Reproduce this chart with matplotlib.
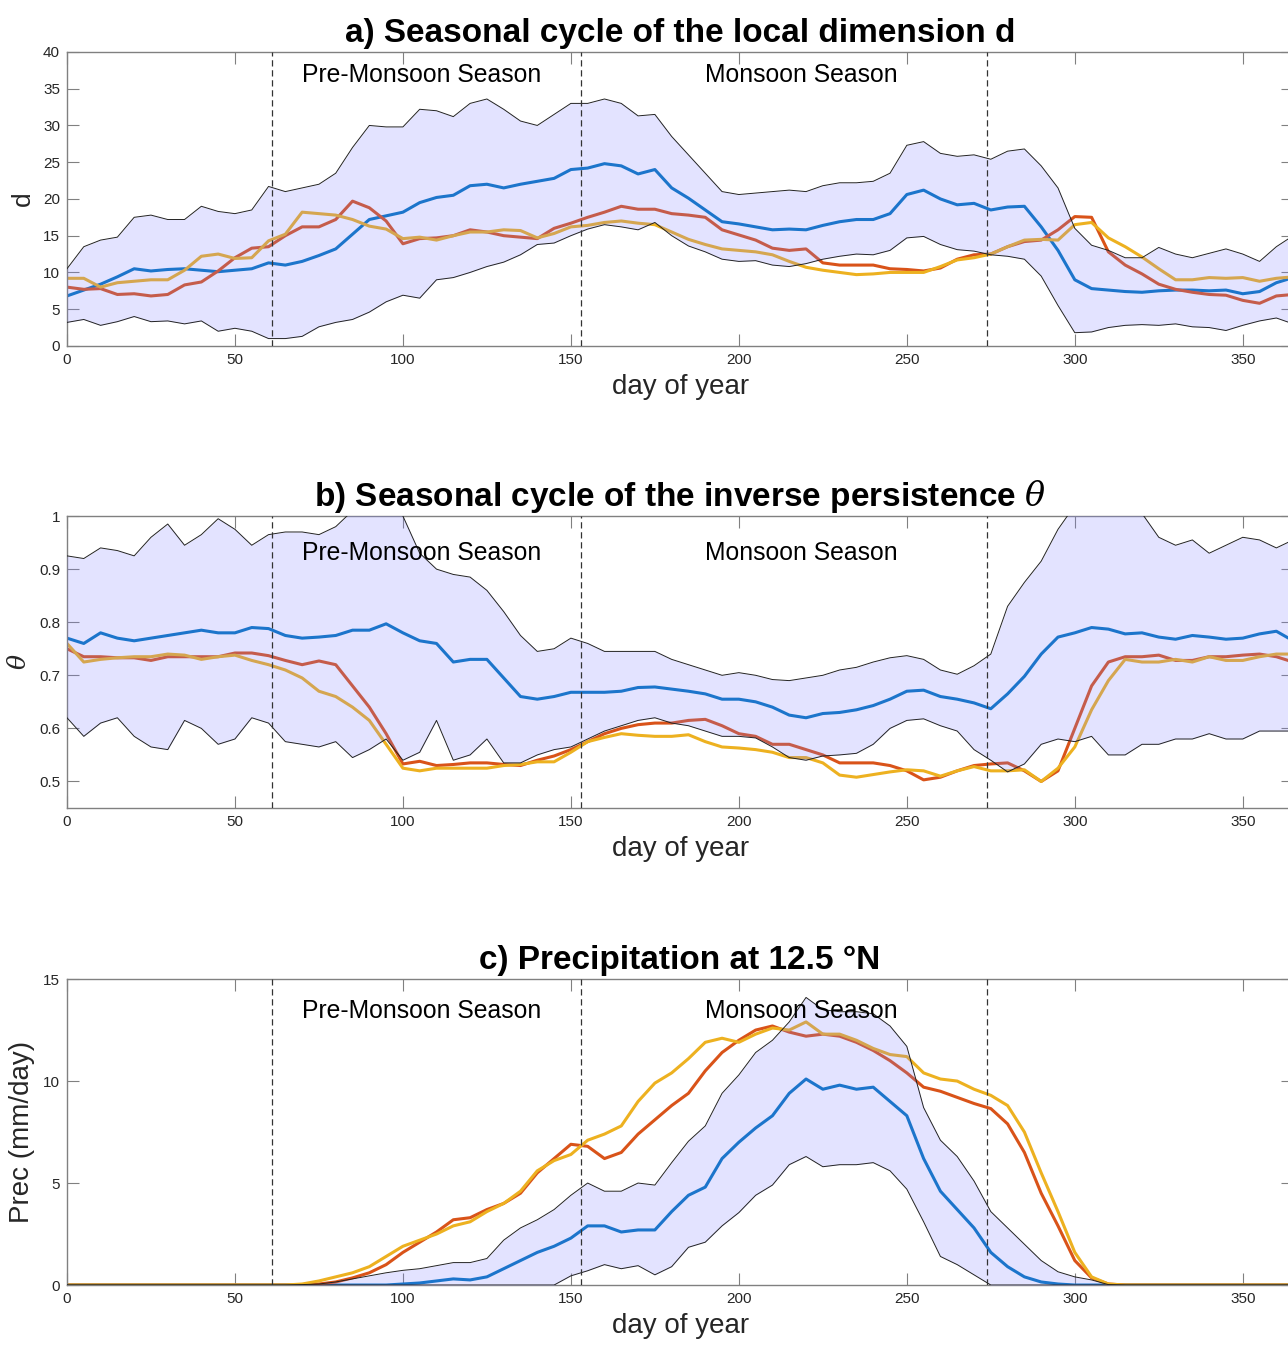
import numpy as np
import matplotlib as mpl
import matplotlib.pyplot as plt

mpl.rcParams['font.family'] = ['Liberation Sans', 'DejaVu Sans']
mpl.rcParams['mathtext.fontset'] = 'dejavuserif'

# day of year, every 5 days
days = list(range(0, 365, 5)) + [365]

# ---- a) local dimension d
d_hi = [10.5, 13.5, 14.4, 14.8, 17.5, 17.8, 17.2, 17.2, 19.0, 18.3,
        18.0, 18.5, 21.7, 21.0, 21.5, 22.0, 23.5, 27.0, 30.0, 29.8,
        29.8, 32.2, 32.0, 31.2, 33.0, 33.6, 32.2, 30.6, 30.0, 31.5,
        33.0, 33.0, 33.6, 33.0, 31.3, 31.5, 28.5, 26.0, 23.5, 21.0,
        20.6, 20.8, 21.0, 21.2, 21.0, 21.8, 22.2, 22.2, 22.4, 23.5,
        27.3, 27.8, 26.2, 25.8, 26.0, 25.4, 26.5, 26.8, 24.5, 21.5,
        16.0, 13.7, 13.0, 12.0, 12.0, 13.4, 12.5, 12.0, 12.6, 13.2,
        12.5, 11.5, 13.5, 15.0]
d_lo = [3.2, 3.6, 2.8, 3.3, 4.0, 3.3, 3.4, 3.0, 3.4, 2.0,
        2.4, 2.0, 1.0, 1.0, 1.3, 2.6, 3.2, 3.6, 4.6, 6.0,
        6.9, 6.5, 9.0, 9.3, 10.0, 10.8, 11.4, 12.4, 13.8, 14.0,
        15.0, 15.9, 16.5, 16.2, 15.8, 16.8, 15.0, 13.6, 12.8, 11.8,
        11.5, 11.6, 11.0, 10.8, 11.2, 11.8, 12.2, 12.5, 12.4, 13.0,
        14.7, 14.9, 13.8, 13.1, 12.9, 12.4, 12.2, 11.8, 9.5, 5.5,
        1.8, 1.9, 2.5, 2.8, 2.9, 2.8, 3.0, 2.6, 2.5, 2.1,
        2.8, 3.4, 3.8, 3.0]
d_blue = [6.8, 7.6, 8.4, 9.4, 10.5, 10.2, 10.4, 10.5, 10.3, 10.1,
          10.3, 10.5, 11.3, 11.0, 11.5, 12.3, 13.2, 15.2, 17.2, 17.7,
          18.2, 19.5, 20.2, 20.5, 21.8, 22.0, 21.5, 22.0, 22.4, 22.8,
          24.0, 24.2, 24.8, 24.5, 23.4, 24.0, 21.5, 20.1, 18.5, 16.9,
          16.6, 16.2, 15.8, 15.9, 15.8, 16.4, 16.9, 17.2, 17.2, 18.0,
          20.6, 21.2, 20.0, 19.2, 19.4, 18.5, 18.9, 19.0, 16.2, 13.0,
          9.0, 7.8, 7.6, 7.4, 7.3, 7.5, 7.6, 7.6, 7.5, 7.6,
          7.1, 7.4, 8.6, 9.3]
d_red = [8.0, 7.7, 7.8, 7.0, 7.1, 6.8, 7.0, 8.3, 8.7, 10.2,
         12.0, 13.3, 13.5, 15.0, 16.2, 16.2, 17.2, 19.7, 18.8, 17.0,
         13.9, 14.6, 14.7, 15.0, 15.8, 15.5, 15.0, 14.8, 14.6, 16.0,
         16.7, 17.5, 18.2, 19.0, 18.6, 18.6, 18.0, 17.8, 17.5, 15.8,
         15.1, 14.4, 13.3, 13.0, 13.2, 11.3, 11.0, 11.0, 11.0, 10.5,
         10.4, 10.2, 10.6, 11.8, 12.4, 12.5, 13.5, 14.2, 14.4, 15.8,
         17.6, 17.5, 12.8, 11.0, 9.8, 8.4, 7.7, 7.3, 7.0, 6.9,
         6.2, 5.8, 6.8, 7.0]
d_yel = [9.2, 9.2, 8.0, 8.6, 8.8, 9.0, 9.0, 10.3, 12.2, 12.5,
         11.9, 12.0, 14.3, 15.2, 18.2, 18.0, 17.8, 17.2, 16.3, 15.9,
         14.6, 14.8, 14.4, 15.0, 15.5, 15.5, 15.8, 15.7, 14.7, 15.3,
         16.2, 16.4, 16.8, 17.0, 16.7, 16.5, 15.5, 14.5, 13.8, 13.2,
         13.0, 12.8, 12.4, 11.5, 10.7, 10.3, 10.0, 9.7, 9.8, 10.0,
         10.0, 10.0, 10.8, 11.7, 12.0, 12.5, 13.5, 14.4, 14.5, 14.4,
         16.5, 16.8, 14.7, 13.5, 12.1, 10.5, 9.0, 9.0, 9.3, 9.2,
         9.3, 8.8, 9.2, 9.4]

# ---- b) inverse persistence theta
t_hi = [0.925, 0.92, 0.94, 0.935, 0.925, 0.96, 0.985, 0.945, 0.965, 0.995,
        0.975, 0.945, 0.965, 0.97, 0.97, 0.965, 0.98, 1.01, 1.03, 1.03,
        1.0, 0.93, 0.9, 0.89, 0.885, 0.86, 0.82, 0.775, 0.745, 0.75,
        0.77, 0.76, 0.745, 0.745, 0.745, 0.745, 0.73, 0.72, 0.71, 0.70,
        0.705, 0.70, 0.692, 0.69, 0.695, 0.70, 0.71, 0.715, 0.725, 0.733,
        0.737, 0.73, 0.71, 0.702, 0.718, 0.74, 0.83, 0.875, 0.915, 0.975,
        1.02, 1.04, 1.04, 1.03, 1.005, 0.96, 0.945, 0.955, 0.93, 0.945,
        0.96, 0.955, 0.94, 0.955]
t_lo = [0.62, 0.585, 0.61, 0.62, 0.585, 0.565, 0.56, 0.615, 0.6, 0.57,
        0.58, 0.62, 0.61, 0.575, 0.57, 0.565, 0.575, 0.545, 0.56, 0.58,
        0.54, 0.555, 0.615, 0.54, 0.55, 0.58, 0.535, 0.535, 0.55, 0.56,
        0.565, 0.58, 0.595, 0.605, 0.615, 0.62, 0.61, 0.605, 0.595, 0.585,
        0.585, 0.582, 0.565, 0.545, 0.54, 0.548, 0.55, 0.553, 0.57, 0.6,
        0.615, 0.618, 0.605, 0.595, 0.56, 0.54, 0.518, 0.533, 0.57, 0.58,
        0.575, 0.585, 0.55, 0.55, 0.57, 0.57, 0.58, 0.58, 0.59, 0.58,
        0.58, 0.595, 0.595, 0.595]
t_blue = [0.77, 0.76, 0.78, 0.77, 0.765, 0.77, 0.775, 0.78, 0.785, 0.78,
          0.78, 0.79, 0.788, 0.775, 0.77, 0.772, 0.775, 0.785, 0.785, 0.797,
          0.78, 0.765, 0.76, 0.725, 0.73, 0.73, 0.695, 0.66, 0.655, 0.66,
          0.668, 0.668, 0.668, 0.67, 0.677, 0.678, 0.674, 0.67, 0.665, 0.655,
          0.655, 0.65, 0.64, 0.625, 0.62, 0.628, 0.63, 0.635, 0.643, 0.655,
          0.67, 0.672, 0.66, 0.655, 0.648, 0.637, 0.665, 0.698, 0.74, 0.772,
          0.78, 0.79, 0.787, 0.778, 0.78, 0.772, 0.768, 0.775, 0.772, 0.768,
          0.77, 0.778, 0.783, 0.765]
t_red = [0.75, 0.735, 0.735, 0.733, 0.733, 0.728, 0.735, 0.735, 0.735, 0.735,
         0.742, 0.742, 0.737, 0.728, 0.72, 0.727, 0.72, 0.68, 0.64, 0.59,
         0.533, 0.538, 0.53, 0.532, 0.535, 0.535, 0.532, 0.53, 0.54, 0.548,
         0.56, 0.575, 0.59, 0.6, 0.607, 0.61, 0.61, 0.615, 0.617, 0.605,
         0.59, 0.585, 0.57, 0.57, 0.56, 0.55, 0.535, 0.535, 0.535, 0.53,
         0.52, 0.503, 0.508, 0.52, 0.53, 0.533, 0.535, 0.52, 0.5, 0.52,
         0.6, 0.68, 0.725, 0.735, 0.735, 0.738, 0.728, 0.728, 0.735, 0.735,
         0.738, 0.74, 0.735, 0.725]
t_yel = [0.76, 0.725, 0.73, 0.733, 0.735, 0.735, 0.74, 0.738, 0.73, 0.735,
         0.738, 0.728, 0.72, 0.71, 0.695, 0.67, 0.66, 0.64, 0.615, 0.57,
         0.525, 0.52, 0.525, 0.525, 0.525, 0.525, 0.53, 0.532, 0.537, 0.537,
         0.555, 0.575, 0.583, 0.59, 0.587, 0.585, 0.585, 0.588, 0.575, 0.565,
         0.563, 0.56, 0.555, 0.545, 0.545, 0.535, 0.512, 0.508, 0.513, 0.518,
         0.522, 0.52, 0.51, 0.52, 0.528, 0.52, 0.52, 0.522, 0.5, 0.525,
         0.565, 0.635, 0.69, 0.73, 0.725, 0.725, 0.73, 0.725, 0.735, 0.728,
         0.728, 0.735, 0.74, 0.74]

# ---- c) precipitation (mm/day)
p_hi = [0, 0, 0, 0, 0, 0, 0, 0, 0, 0,
        0, 0, 0, 0, 0.02, 0.05, 0.15, 0.3, 0.45, 0.6,
        0.72, 0.8, 0.95, 1.1, 1.1, 1.3, 2.2, 2.8, 3.2, 3.7,
        4.4, 5.0, 4.6, 4.6, 5.0, 4.9, 6.0, 7.05, 7.8, 9.4,
        10.3, 11.4, 12.0, 12.9, 14.1, 13.5, 13.4, 13.4, 13.3, 12.7,
        11.7, 8.7, 7.1, 6.3, 5.1, 3.6, 2.8, 2.0, 1.2, 0.65,
        0.4, 0.25, 0.02, 0, 0, 0, 0, 0, 0, 0,
        0, 0, 0, 0]
p_lo = [0, 0, 0, 0, 0, 0, 0, 0, 0, 0,
        0, 0, 0, 0, 0, 0, 0, 0, 0, 0,
        0, 0, 0, 0, 0, 0, 0, 0, 0, 0,
        0.45, 0.7, 1.0, 0.8, 0.95, 0.5, 0.9, 1.85, 2.1, 2.9,
        3.55, 4.4, 4.9, 5.9, 6.3, 5.8, 5.9, 5.9, 6.0, 5.6,
        4.7, 3.1, 1.4, 1.0, 0.5, 0, 0, 0, 0, 0,
        0, 0, 0, 0, 0, 0, 0, 0, 0, 0,
        0, 0, 0, 0]
p_blue = [0, 0, 0, 0, 0, 0, 0, 0, 0, 0,
          0, 0, 0, 0, 0, 0, 0, 0, 0, 0,
          0.05, 0.1, 0.2, 0.3, 0.25, 0.4, 0.8, 1.2, 1.6, 1.9,
          2.3, 2.9, 2.9, 2.6, 2.7, 2.7, 3.6, 4.4, 4.8, 6.2,
          7.0, 7.7, 8.3, 9.4, 10.1, 9.6, 9.8, 9.6, 9.7, 9.0,
          8.3, 6.2, 4.6, 3.7, 2.8, 1.6, 0.9, 0.4, 0.15, 0.05,
          0, 0, 0, 0, 0, 0, 0, 0, 0, 0,
          0, 0, 0, 0]
p_red = [0, 0, 0, 0, 0, 0, 0, 0, 0, 0,
         0, 0, 0, 0, 0, 0.05, 0.15, 0.35, 0.6, 1.0,
         1.6, 2.1, 2.6, 3.2, 3.3, 3.7, 4.0, 4.5, 5.5, 6.2,
         6.9, 6.8, 6.2, 6.5, 7.4, 8.1, 8.8, 9.4, 10.5, 11.4,
         12.0, 12.5, 12.7, 12.4, 12.2, 12.3, 12.2, 11.9, 11.5, 11.0,
         10.4, 9.7, 9.5, 9.2, 8.9, 8.65, 7.9, 6.5, 4.5, 2.9,
         1.2, 0.35, 0.05, 0, 0, 0, 0, 0, 0, 0,
         0, 0, 0, 0]
p_yel = [0, 0, 0, 0, 0, 0, 0, 0, 0, 0,
         0, 0, 0, 0, 0.05, 0.2, 0.4, 0.6, 0.9, 1.4,
         1.9, 2.2, 2.5, 2.9, 3.1, 3.6, 4.0, 4.6, 5.6, 6.1,
         6.4, 7.1, 7.4, 7.8, 9.0, 9.9, 10.4, 11.1, 11.9, 12.1,
         11.9, 12.3, 12.6, 12.5, 12.9, 12.3, 12.3, 12.0, 11.6, 11.3,
         11.2, 10.4, 10.1, 10.0, 9.6, 9.3, 8.8, 7.5, 5.5, 3.6,
         1.6, 0.4, 0.05, 0, 0, 0, 0, 0, 0, 0,
         0, 0, 0, 0]

season_bounds = [61, 153, 274]
season_names = ['Pre-Monsoon Season', 'Monsoon Season']
season_text_x = [105.5, 218.5]

blue = '#0072BD'
red = '#D95319'
yellow = '#EDB120'
spine_col = '#808080'

fig = plt.figure(figsize=(12.88, 13.46), dpi=100)

panels = [
    dict(pos=[0.052, 0.743, 0.952, 0.2184], hi=d_hi, lo=d_lo, lines=(d_blue, d_red, d_yel),
         ylim=(0, 40), yticks=np.arange(0, 41, 5), yticklabels=None,
         title='a) Seasonal cycle of the local dimension d', ylabel='d', ysize=19, text_y=36.9),
    dict(pos=[0.052, 0.3997, 0.952, 0.2169], hi=t_hi, lo=t_lo, lines=(t_blue, t_red, t_yel),
         ylim=(0.45, 1.0), yticks=[0.5, 0.6, 0.7, 0.8, 0.9, 1.0],
         yticklabels=['0.5', '0.6', '0.7', '0.8', '0.9', '1'],
         title=r'b) Seasonal cycle of the inverse persistence $\theta$', ylabel=r'$\theta$', ysize=18,
         text_y=0.93),
    dict(pos=[0.052, 0.0453, 0.952, 0.2273], hi=p_hi, lo=p_lo, lines=(p_blue, p_red, p_yel),
         ylim=(0, 15), yticks=[0, 5, 10, 15], yticklabels=None,
         title='c) Precipitation at 12.5 \u00b0N', ylabel='Prec (mm/day)', ysize=20, text_y=13.43),
]

for p in panels:
    ax = fig.add_axes(p['pos'])
    for arr in (p['hi'], p['lo']) + p['lines']:
        assert len(arr) == len(days)
    # lines underneath, translucent band on top (darkens lines inside the band)
    for vals, col in zip(p['lines'], (blue, red, yellow)):
        ax.plot(days, vals, color=col, lw=2.2, zorder=2, solid_joinstyle='round')
    ax.fill_between(days, p['lo'], p['hi'], color=(0.5, 0.5, 1.0), alpha=0.22, lw=0, zorder=3)
    ax.plot(days, p['hi'], color='#222222', lw=0.7, zorder=4)
    ax.plot(days, p['lo'], color='#222222', lw=0.7, zorder=4)
    for b in season_bounds:
        ax.axvline(b, color='#333333', lw=0.9, ls=(0, (5, 3)), zorder=5)
    for tx, name in zip(season_text_x, season_names):
        ax.text(tx, p['text_y'], name, ha='center', va='center', fontsize=17.8, color='black', zorder=6)

    ax.set_xlim(0, 365)
    ax.set_ylim(*p['ylim'])
    ax.set_xticks(np.arange(0, 366, 50))
    ax.set_yticks(p['yticks'])
    if p['yticklabels'] is not None:
        ax.set_yticklabels(p['yticklabels'])
    ax.tick_params(direction='in', length=8.5, width=0.8, color=spine_col, labelsize=11,
                   labelcolor='#262626', top=True, right=True, pad=5)
    for s in ax.spines.values():
        s.set_color(spine_col)
        s.set_linewidth(1.0)
    ax.set_xlabel('day of year', fontsize=20, color='#262626', labelpad=5)
    ax.set_ylabel(p['ylabel'], fontsize=p['ysize'], color='#262626', labelpad=6)
    ax.set_title(p['title'], fontsize=24, fontweight='bold', pad=7)

fig.savefig('out.png', dpi=100)
